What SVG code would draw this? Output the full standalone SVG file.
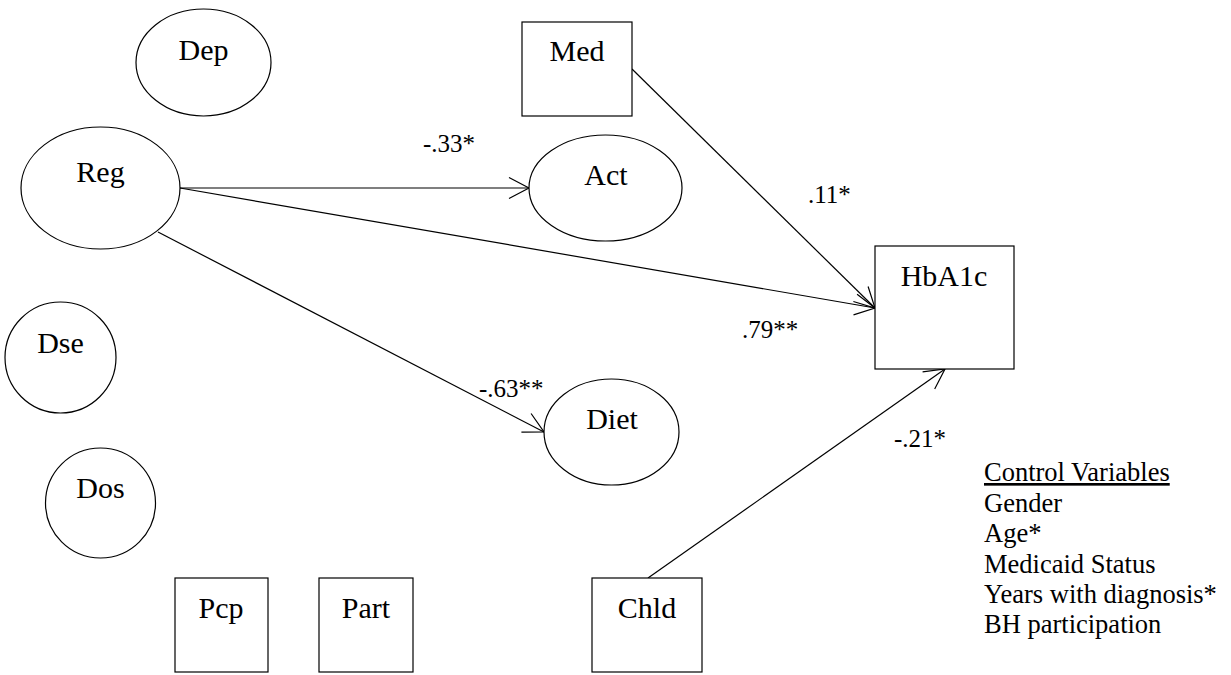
<svg xmlns="http://www.w3.org/2000/svg" width="1231" height="675" viewBox="0 0 1231 675" font-family="Liberation Serif, serif">
<style>
.n{fill:#fff;stroke:#000;stroke-width:1.2}
.t{font-size:30px;text-anchor:middle}
.l{font-size:25px}
.c{font-size:26.5px}
.e{fill:none;stroke:#000;stroke-width:1.2}
</style>
<defs>
<marker id="arr" viewBox="-25 -15 30 30" refX="0" refY="0" markerWidth="30" markerHeight="30" markerUnits="userSpaceOnUse" orient="auto">
<path d="M-20,-10.5 L0,0 L-20,10.5" fill="none" stroke="#000" stroke-width="1.2"/>
</marker>
</defs>
<rect width="1231" height="675" fill="#fff"/>
<g id="connectors">
<line class="e" x1="180" y1="188" x2="529" y2="188" marker-end="url(#arr)"/>
<line class="e" x1="180" y1="188" x2="875" y2="308" marker-end="url(#arr)"/>
<line class="e" x1="158" y1="232" x2="544" y2="432" marker-end="url(#arr)"/>
<line class="e" x1="632" y1="69" x2="875" y2="308" marker-end="url(#arr)"/>
<line class="e" x1="648" y1="578" x2="945" y2="369" marker-end="url(#arr)"/>
</g>
<g id="labels">
<text class="l" x="423" y="152">-.33*</text>
<text class="l" x="808" y="203">.11*</text>
<text class="l" x="742" y="338">.79**</text>
<text class="l" x="479" y="397">-.63**</text>
<text class="l" x="894" y="447">-.21*</text>
</g>
<g id="Dep"><ellipse class="n" cx="203.5" cy="62.5" rx="67.5" ry="53.5"/><text class="t" x="203.5" y="60">Dep</text></g>
<g id="Reg"><ellipse class="n" cx="100.5" cy="188" rx="79.5" ry="61"/><text class="t" x="100.5" y="182">Reg</text></g>
<g id="Dse"><ellipse class="n" cx="60.5" cy="357.5" rx="55.5" ry="55.5"/><text class="t" x="60.5" y="353">Dse</text></g>
<g id="Dos"><ellipse class="n" cx="100.5" cy="503" rx="55" ry="55"/><text class="t" x="100.5" y="498">Dos</text></g>
<g id="Med"><rect class="n" x="522" y="22" width="110" height="94"/><text class="t" x="577" y="61">Med</text></g>
<g id="Act"><ellipse class="n" cx="605.5" cy="188" rx="76.5" ry="53"/><text class="t" x="606" y="185">Act</text></g>
<g id="Diet"><ellipse class="n" cx="611.5" cy="432" rx="67.5" ry="53"/><text class="t" x="612" y="429">Diet</text></g>
<g id="HbA1c"><rect class="n" x="875" y="246" width="139" height="123"/><text class="t" x="944" y="286">HbA1c</text></g>
<g id="Pcp"><rect class="n" x="175" y="578" width="93" height="94"/><text class="t" x="221" y="618">Pcp</text></g>
<g id="Part"><rect class="n" x="319" y="578" width="94" height="94"/><text class="t" x="366" y="618">Part</text></g>
<g id="Chld"><rect class="n" x="592" y="578" width="110" height="94"/><text class="t" x="647" y="618">Chld</text></g>
<g id="controls">
<text class="c" x="984" y="481" text-decoration="underline">Control Variables</text>
<text class="c" x="984" y="512">Gender</text>
<text class="c" x="984" y="542">Age*</text>
<text class="c" x="984" y="573">Medicaid Status</text>
<text class="c" x="984" y="603">Years with diagnosis*</text>
<text class="c" x="984" y="633">BH participation</text>
</g>
</svg>
